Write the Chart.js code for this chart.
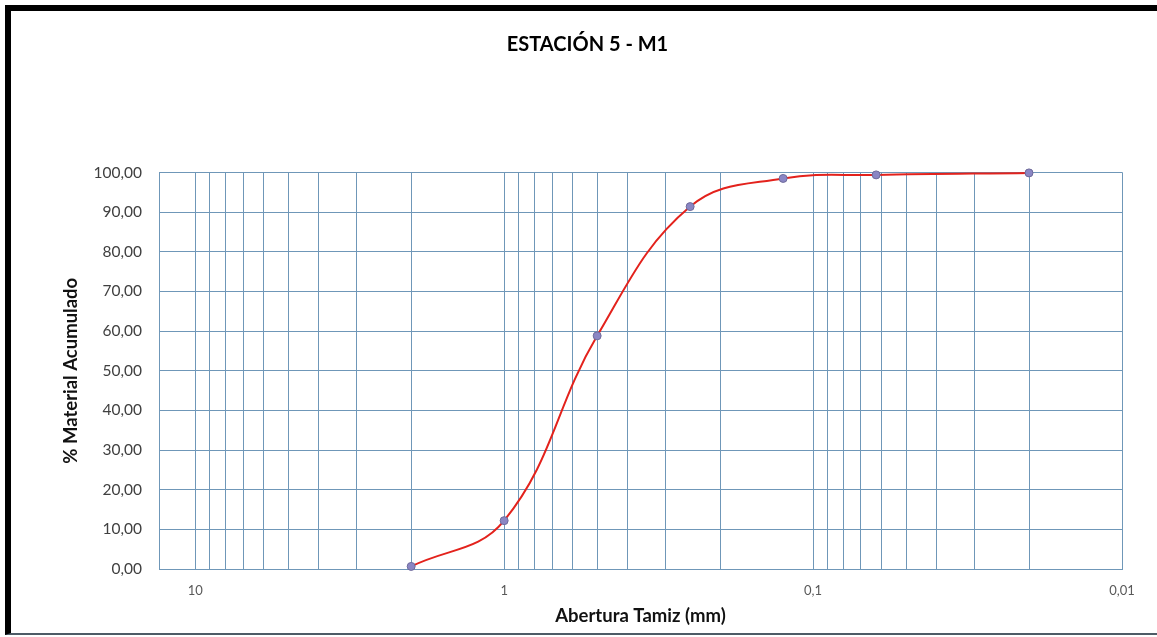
<!DOCTYPE html>
<html>
<head>
<meta charset="utf-8">
<script src="https://cdn.jsdelivr.net/npm/chart.js@4/dist/chart.umd.min.js"></script>
<style>
  html, body { margin: 0; padding: 0; background: #fff; }
  #wrap { position: relative; width: 1157px; height: 637px; overflow: hidden; background: #fff; }
  #frame { position: absolute; left: 5px; top: 5px; width: 1160px; height: 622px;
           border-top: 6px solid #000; border-left: 6px solid #000; border-bottom: 2px solid #4d5b66; }
  #c { position: absolute; left: 0; top: 0; }
</style>
</head>
<body>
<div id="wrap">
  <div id="frame"></div>
  <canvas id="c" width="1157" height="637"></canvas>
</div>
<script>
// ---- data ----
const chartTitle = 'ESTACIÓN 5 - M1';
const xTitle = 'Abertura Tamiz (mm)';
const yTitle = '% Material Acumulado';
const sieveSizes = [2, 1, 0.5, 0.25, 0.125, 0.0625, 0.02];
const cumulativePct = [0.65, 12.2, 58.8, 91.4, 98.5, 99.4, 99.9];
const xMin = 0.01;
const xMax = 13.1;
const xGridValues = [
  0.01, 0.02, 0.03, 0.04, 0.05, 0.06, 0.07, 0.08, 0.09,
  0.1, 0.2, 0.3, 0.4, 0.5, 0.6, 0.7, 0.8, 0.9,
  1, 2, 3, 4, 5, 6, 7, 8, 9,
  10, 13.1
];
const xLabelMap = { '10': '10', '1': '1', '0.1': '0,1', '0.01': '0,01' };

const gridColor = '#6f97b8';

new Chart(document.getElementById('c'), {
  type: 'line',
  data: {
    datasets: [{
      data: sieveSizes.map((x, i) => ({ x: x, y: cumulativePct[i] })),
      borderColor: '#e3221c',
      borderWidth: 2,
      tension: 0.4,
      pointRadius: 4,
      pointBackgroundColor: '#8a86c4',
      pointBorderColor: '#6e6a9a',
      pointBorderWidth: 1,
      fill: false,
      clip: false
    }]
  },
  options: {
    responsive: false,
    animation: false,
    devicePixelRatio: 1,
    layout: { padding: { left: 53, right: 35, top: 0, bottom: 10 } },
    plugins: {
      legend: { display: false },
      tooltip: { enabled: false },
      title: {
        display: true,
        text: chartTitle,
        color: '#000',
        font: { family: 'Lato', size: 20, weight: 'bold' },
        padding: { top: 33, bottom: 115.5 }
      }
    },
    scales: {
      x: {
        type: 'logarithmic',
        reverse: true,
        min: xMin,
        max: xMax,
        afterBuildTicks: (s) => { s.ticks = xGridValues.map(v => ({ value: v })); },
        afterFit: (s) => { s.height = 58; },
        grid: { color: gridColor, lineWidth: 1, drawTicks: false },
        border: { display: true, color: gridColor },
        ticks: {
          autoSkip: false, maxRotation: 0, minRotation: 0, padding: 14,
          color: '#595959',
          font: { family: 'Lato', size: 13 },
          callback: (v) => xLabelMap[String(v)] || ''
        },
        title: {
          display: true, text: xTitle, color: '#111',
          font: { family: 'Lato', size: 18.5, weight: 'bold' },
          padding: { top: 0, bottom: 0 }
        }
      },
      y: {
        min: 0,
        max: 100,
        afterFit: (s) => { s.width = 106; },
        grid: { color: gridColor, lineWidth: 1, drawTicks: false },
        border: { display: true, color: gridColor },
        ticks: {
          stepSize: 10, padding: 17,
          color: '#404040',
          font: { family: 'Lato', size: 15.5 },
          callback: (v) => v.toFixed(2).replace('.', ',')
        },
        title: {
          display: true, text: yTitle, color: '#111',
          font: { family: 'Lato', size: 18.5, weight: 'bold' },
          padding: { top: 6.5, bottom: 0 }
        }
      }
    }
  },
  plugins: [{
    id: 'rightBorder',
    afterDraw(chart) {
      const a = chart.chartArea, ctx = chart.ctx;
      ctx.save();
      ctx.strokeStyle = gridColor; ctx.lineWidth = 1;
      ctx.beginPath();
      ctx.moveTo(Math.round(a.right) + 0.5, a.top);
      ctx.lineTo(Math.round(a.right) + 0.5, a.bottom);
      ctx.stroke();
      ctx.restore();
    }
  }]
});
</script>
</body>
</html>
